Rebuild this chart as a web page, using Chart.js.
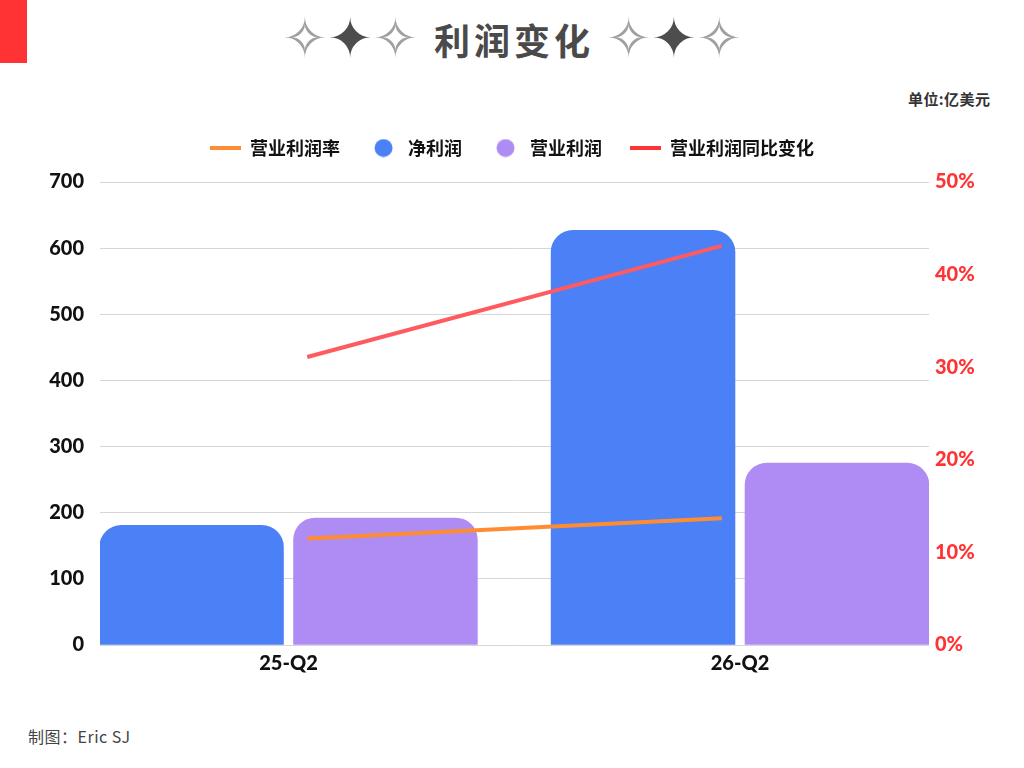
<!DOCTYPE html>
<html>
<head>
<meta charset="utf-8">
<script src="https://cdn.jsdelivr.net/npm/chart.js@4"></script>
<style>
  body { margin:0; width:1024px; height:768px; background:#fff; position:relative; overflow:hidden;
         font-family:"Noto Sans CJK SC","Noto Sans",sans-serif; }
  #bar { position:absolute; left:0; top:0; width:27px; height:63px; background:#ff3333; }
  #title { position:absolute; left:0; top:7px; width:1024px; text-align:center; white-space:nowrap; }
  #title .t { font-size:36px; font-weight:bold; color:#4a4a4a; letter-spacing:4px; vertical-align:middle; margin:0 12px 0 16px; }
  #title .s { font-family:"DejaVu Sans"; font-size:54px; vertical-align:middle; }
  #title .o { color:#a0a0a0; }
  #title .f { color:#4d4d4d; }
  #unit { position:absolute; left:908px; top:88px; font-size:15px; font-weight:bold; color:#333; letter-spacing:0.4px; }
  #foot { position:absolute; left:28px; top:724px; font-size:16px; color:#444; letter-spacing:0.5px; }
  #c { position:absolute; left:0; top:0; }
</style>
</head>
<body>
<div id="bar"></div>
<div id="title"><span class="s o">✧</span><span class="s f">✦</span><span class="s o">✧</span><span class="t">利润变化</span><span class="s o">✧</span><span class="s f">✦</span><span class="s o">✧</span></div>
<div id="unit">单位:亿美元</div>
<div id="foot">制图：Eric SJ</div>
<canvas id="c" width="1024" height="768"></canvas>
<script>
// data
const categories = ['25-Q2', '26-Q2'];
const netProfit = [181, 627];     // 净利润 (亿美元)
const opProfit = [192, 275];      // 营业利润 (亿美元)
const opMargin = [11.5, 13.7];    // 营业利润率 (%)
const opYoY = [31.1, 43.1];       // 营业利润同比变化 (%)

const blue = '#4b80f7', purple = '#ae8cf4', orange = '#ff8c33', red = '#ff5a5f';
const tickFont = { family: 'Lato, "Noto Sans", sans-serif', size: 20, weight: 900 };

// legend icons
function lineIcon(color) {
  const c = document.createElement('canvas');
  c.width = 31; c.height = 4;
  const g = c.getContext('2d');
  g.fillStyle = color; g.fillRect(0, 0, 31, 4);
  return c;
}
function dotIcon(color) {
  const c = document.createElement('canvas');
  c.width = 19; c.height = 19;
  const g = c.getContext('2d');
  g.fillStyle = color; g.beginPath(); g.arc(9.5, 9.5, 9, 0, Math.PI * 2); g.fill();
  return c;
}

const toXY = arr => arr.map((v, i) => ({ x: i, y: v }));

// extra room between legend and plot
const legendGap = {
  id: 'legendGap',
  afterInit(chart) {
    const fit = chart.legend.fit;
    chart.legend.fit = function () { fit.call(this); this.height += 15; };
  }
};

// the line datasets also count as groups here, so the percentage is doubled
const barOpts = {
  xAxisID: 'x', yAxisID: 'y',
  barThickness: 'flex',
  categoryPercentage: 1.718,
  barPercentage: 0.948,
  borderRadius: 22,
  borderSkipped: 'bottom',
  order: 1
};

new Chart(document.getElementById('c'), {
  type: 'bar',
  data: {
    datasets: [
      { type: 'line', label: '营业利润率', data: opMargin, xAxisID: 'xl', yAxisID: 'yR',
        borderColor: orange, backgroundColor: orange, borderWidth: 4, pointRadius: 0,
        pointStyle: lineIcon(orange), order: 0 },
      Object.assign({ label: '净利润', data: toXY(netProfit), backgroundColor: blue,
        pointStyle: dotIcon(blue) }, barOpts),
      Object.assign({ label: '营业利润', data: toXY(opProfit), backgroundColor: purple,
        pointStyle: dotIcon(purple) }, barOpts),
      { type: 'line', label: '营业利润同比变化', data: opYoY, xAxisID: 'xl', yAxisID: 'yR',
        borderColor: red, backgroundColor: red, borderWidth: 4, pointRadius: 0,
        pointStyle: lineIcon('#ff3333'), order: 0 }
    ]
  },
  options: {
    responsive: false,
    animation: false,
    layout: { padding: { top: 111, left: 0, right: 0, bottom: 0 } },
    plugins: {
      tooltip: { enabled: false },
      legend: {
        position: 'top',
        labels: {
          usePointStyle: true,
          pointStyleWidth: 31,
          boxWidth: 31,
          padding: 28,
          color: '#111',
          font: { family: '"Noto Sans CJK SC", sans-serif', size: 18, weight: 'bold' },
          sort: (a, b) => a.datasetIndex - b.datasetIndex
        }
      }
    },
    scales: {
      x: {
        type: 'linear',
        offset: false,
        bounds: 'data',
        min: -0.4175,
        max: 1.4186,
        afterBuildTicks: s => { s.ticks = categories.map((c, i) => ({ value: i })); },
        afterFit: s => { s.height = 123; },
        grid: { display: false, drawTicks: false },
        border: { display: false },
        ticks: { callback: v => categories[v], color: '#111', font: tickFont, padding: 7 }
      },
      xl: {
        type: 'category',
        labels: categories,
        offset: true,
        display: false
      },
      y: {
        position: 'left',
        min: 0, max: 700,
        afterFit: s => { s.width = 100; },
        grid: { color: '#d6d6d6', drawTicks: false },
        border: { display: false },
        ticks: { stepSize: 100, color: '#111', font: tickFont, padding: 16 }
      },
      yR: {
        position: 'right',
        min: 0, max: 50,
        afterFit: s => { s.width = 95; },
        grid: { display: false, drawTicks: false },
        border: { display: false },
        ticks: { stepSize: 10, color: '#ff3333', font: tickFont, padding: 6, callback: v => v + '%' }
      }
    }
  },
  plugins: [legendGap]
});
</script>
</body>
</html>
